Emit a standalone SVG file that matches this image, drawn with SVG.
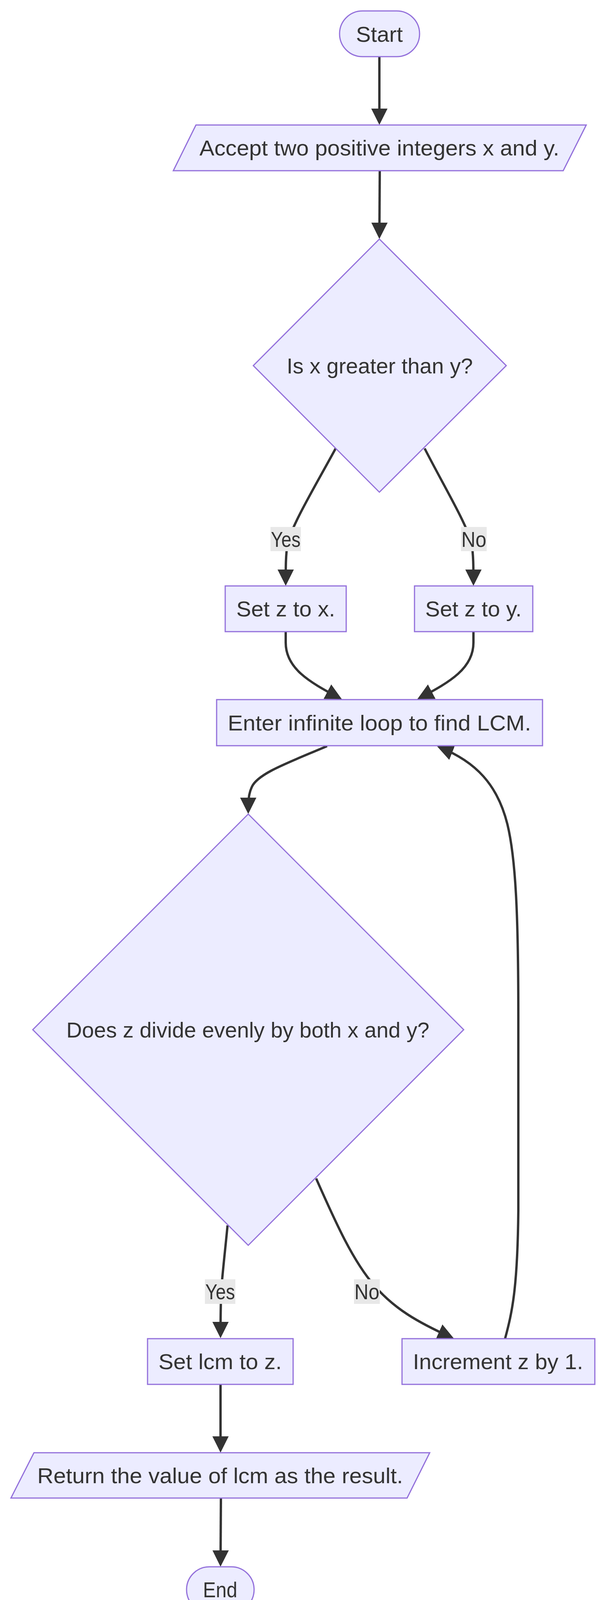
<svg xmlns="http://www.w3.org/2000/svg" width="1568" height="4200" viewBox="0 0 1568 4200">
<style>
.node{fill:#ECECFF;stroke:#9370DB;stroke-width:3}
.t{font-family:"Liberation Sans",Arial,sans-serif;font-size:55px;fill:#333333;text-anchor:middle}
.edge{fill:none;stroke:#333333;stroke-width:6}
.lbl{fill:#e8e8e8}
</style>
<defs>
<marker id="arr" viewBox="0 0 10 10" refX="8.4" refY="5" markerWidth="42" markerHeight="42" markerUnits="userSpaceOnUse" orient="auto">
<path d="M0,0 L10,5 L0,10 z" fill="#333333"/>
</marker>
</defs>
<rect width="1568" height="4200" fill="#ffffff"/>
<g id="connectors">
<path class="edge" marker-end="url(#arr)" d="M972,145 L972,313"/>
<path class="edge" marker-end="url(#arr)" d="M973,437 L972,605"/>
<path class="edge" marker-end="url(#arr)" d="M860,1148 C810,1240 750,1340 737,1390 C732,1420 732,1450 732,1493"/>
<path class="edge" marker-end="url(#arr)" d="M1088,1148 C1135,1240 1195,1340 1208,1390 C1213,1420 1213,1450 1213,1493"/>
<path class="edge" marker-end="url(#arr)" d="M732,1617 L732,1645 C732,1710 790,1745 870,1787"/>
<path class="edge" marker-end="url(#arr)" d="M1213,1617 L1213,1645 C1213,1710 1155,1745 1075,1787"/>
<path class="edge" marker-end="url(#arr)" d="M838,1910 C740,1952 660,1980 645,2015 C638,2030 636,2045 636,2077"/>
<path class="edge" marker-end="url(#arr)" d="M583,3137 C578,3190 571,3250 567,3300 C565,3350 565,3390 565,3419"/>
<path class="edge" marker-end="url(#arr)" d="M810,3017 C860,3130 905,3230 960,3292 C1010,3350 1070,3385 1157,3424"/>
<path class="edge" marker-end="url(#arr)" d="M1294,3427 C1312,3360 1326,3300 1328,3100 L1328,2600 C1328,2350 1322,2200 1300,2110 C1275,2010 1220,1950 1126,1913"/>
<path class="edge" marker-end="url(#arr)" d="M565,3544 L565,3712"/>
<path class="edge" marker-end="url(#arr)" d="M566,3835 L565,4004"/>
<g id="edge-labels">
<rect class="lbl" x="693" y="1349" width="78" height="62"/>
<text class="t" x="732" y="1400" textLength="76" lengthAdjust="spacingAndGlyphs">Yes</text>
<rect class="lbl" x="1181" y="1349" width="66" height="62"/>
<text class="t" x="1214" y="1400" textLength="64" lengthAdjust="spacingAndGlyphs">No</text>
<rect class="lbl" x="525" y="3275" width="78" height="63"/>
<text class="t" x="564" y="3326" textLength="76" lengthAdjust="spacingAndGlyphs">Yes</text>
<rect class="lbl" x="907" y="3275" width="66" height="63"/>
<text class="t" x="940" y="3326" textLength="64" lengthAdjust="spacingAndGlyphs">No</text>
</g>
</g>
<g id="start">
<rect class="node" x="870" y="28" width="205" height="117" rx="58.5" ry="58.5"/>
<text class="t" x="972" y="107" textLength="120" lengthAdjust="spacingAndGlyphs">Start</text>
</g>
<g id="accept">
<polygon class="node" points="502,320 1502,320 1443,437 444,437"/>
<text class="t" x="972" y="398" textLength="922" lengthAdjust="spacingAndGlyphs">Accept two positive integers x and y.</text>
</g>
<g id="decision1">
<polygon class="node" points="972,612 1297,936 972,1260 649,936"/>
<text class="t" x="973" y="956" textLength="477" lengthAdjust="spacingAndGlyphs">Is x greater than y?</text>
</g>
<g id="setzx">
<rect class="node" x="577" y="1500" width="310" height="117"/>
<text class="t" x="732" y="1578" textLength="253" lengthAdjust="spacingAndGlyphs">Set z to x.</text>
</g>
<g id="setzy">
<rect class="node" x="1062" y="1500" width="303" height="117"/>
<text class="t" x="1213" y="1578" textLength="247" lengthAdjust="spacingAndGlyphs">Set z to y.</text>
</g>
<g id="loop">
<rect class="node" x="555" y="1791" width="835" height="118"/>
<text class="t" x="972" y="1870" textLength="777" lengthAdjust="spacingAndGlyphs">Enter infinite loop to find LCM.</text>
</g>
<g id="decision2">
<polygon class="node" points="636,2084 1188,2636 636,3188 84,2636"/>
<text class="t" x="635" y="2656" textLength="930" lengthAdjust="spacingAndGlyphs">Does z divide evenly by both x and y?</text>
</g>
<g id="setlcm">
<rect class="node" x="378" y="3427" width="373" height="117"/>
<text class="t" x="564" y="3505" textLength="316" lengthAdjust="spacingAndGlyphs">Set lcm to z.</text>
</g>
<g id="increment">
<rect class="node" x="1030" y="3427" width="494" height="117"/>
<text class="t" x="1276" y="3505" textLength="436" lengthAdjust="spacingAndGlyphs">Increment z by 1.</text>
</g>
<g id="return">
<polygon class="node" points="87,3719 1101,3719 1043,3835 28,3835"/>
<text class="t" x="564" y="3797" textLength="937" lengthAdjust="spacingAndGlyphs">Return the value of lcm as the result.</text>
</g>
<g id="end">
<rect class="node" x="478" y="4011" width="173" height="117" rx="58.5" ry="58.5"/>
<text class="t" x="564" y="4089" textLength="88" lengthAdjust="spacingAndGlyphs">End</text>
</g>
</svg>
